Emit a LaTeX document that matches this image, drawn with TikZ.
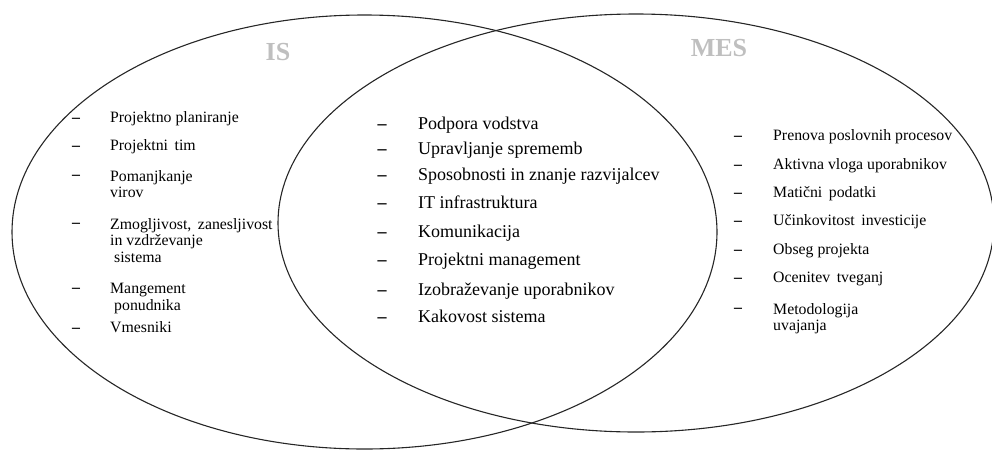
\documentclass[tikz,border=0pt]{standalone}
\usepackage{fontspec}
\setmainfont{Liberation Serif}
\begin{document}
\begin{tikzpicture}[x=1pt,y=-1pt,
  venn/.style={draw=black!85, line width=1.1pt},
  setlabel/.style={inner sep=0pt, font=\fontsize{26}{30}\selectfont\bfseries, text=black!25},
  dashmark/.style={inner sep=0pt, anchor=mid},
  sideitem/.style={anchor=mid west, inner sep=0pt, align=left, font=\fontsize{15.8}{16.5}\selectfont},
  sidemulti/.style={sideitem, anchor=north west},
  sidedash/.style={dashmark, font=\fontsize{15.8}{16.5}\selectfont\bfseries},
  miditem/.style={anchor=mid west, inner sep=0pt, font=\fontsize{18}{21}\selectfont},
  middash/.style={dashmark, font=\fontsize{18}{21}\selectfont\bfseries}
]
\useasboundingbox (0,0) rectangle (992,450);

% sets
\draw[venn] (364.5,232) ellipse [x radius=352.5, y radius=217];
\draw[venn] (636,223) ellipse [x radius=358, y radius=209];

\node[setlabel] (is) at (278,52) {IS};
\node[setlabel] (mes) at (719,48) {MES};

% IS only
\node[sidedash] (ld1) at (76,120) {–};
\node[sideitem] (l1) at (110,120) {Projektno planiranje};
\node[sidedash] (ld2) at (76,148) {–};
\node[sideitem] (l2) at (110,148) {Projektni\, tim};
\node[sidedash] (ld3) at (76,177) {–};
\node[sidemulti] (l3) at (110,170) {Pomanjkanje\\virov};
\node[sidedash] (ld4) at (76,225) {–};
\node[sidemulti] (l4) at (110,218) {Zmogljivost,\, zanesljivost\\in vzdrževanje\\\hspace*{4pt}sistema};
\node[sidedash] (ld5) at (76,290) {–};
\node[sidemulti] (l5) at (110,283) {Mangement\\\hspace*{4pt}ponudnika};
\node[sidedash] (ld6) at (76,330) {–};
\node[sideitem] (l6) at (110,330) {Vmesniki};

% common
\node[middash] (cd1) at (382,127) {–};
\node[miditem] (c1) at (418,127) {Podpora vodstva};
\node[middash] (cd2) at (382,152) {–};
\node[miditem] (c2) at (418,152) {Upravljanje sprememb};
\node[middash] (cd3) at (382,178) {–};
\node[miditem] (c3) at (418,178) {Sposobnosti in znanje razvijalcev};
\node[middash] (cd4) at (382,206) {–};
\node[miditem] (c4) at (418,206) {IT infrastruktura};
\node[middash] (cd5) at (382,235) {–};
\node[miditem] (c5) at (418,235) {Komunikacija};
\node[middash] (cd6) at (382,263) {–};
\node[miditem] (c6) at (418,263) {Projektni management};
\node[middash] (cd7) at (382,293) {–};
\node[miditem] (c7) at (418,293) {Izobraževanje uporabnikov};
\node[middash] (cd8) at (382,320) {–};
\node[miditem] (c8) at (418,320) {Kakovost sistema};

% MES only
\node[sidedash] (rd1) at (738,138) {–};
\node[sideitem] (r1) at (773,138) {Prenova poslovnih procesov};
\node[sidedash] (rd2) at (738,167) {–};
\node[sideitem] (r2) at (773,167) {Aktivna vloga uporabnikov};
\node[sidedash] (rd3) at (738,195) {–};
\node[sideitem] (r3) at (773,195) {Matični\, podatki};
\node[sidedash] (rd4) at (738,223) {–};
\node[sideitem] (r4) at (773,223) {Učinkovitost\, investicije};
\node[sidedash] (rd5) at (738,252) {–};
\node[sideitem] (r5) at (773,252) {Obseg projekta};
\node[sidedash] (rd6) at (738,280) {–};
\node[sideitem] (r6) at (773,280) {Ocenitev\, tveganj};
\node[sidedash] (rd7) at (738,310) {–};
\node[sidemulti] (r7) at (773,303) {Metodologija\\uvajanja};
\end{tikzpicture}
\end{document}
